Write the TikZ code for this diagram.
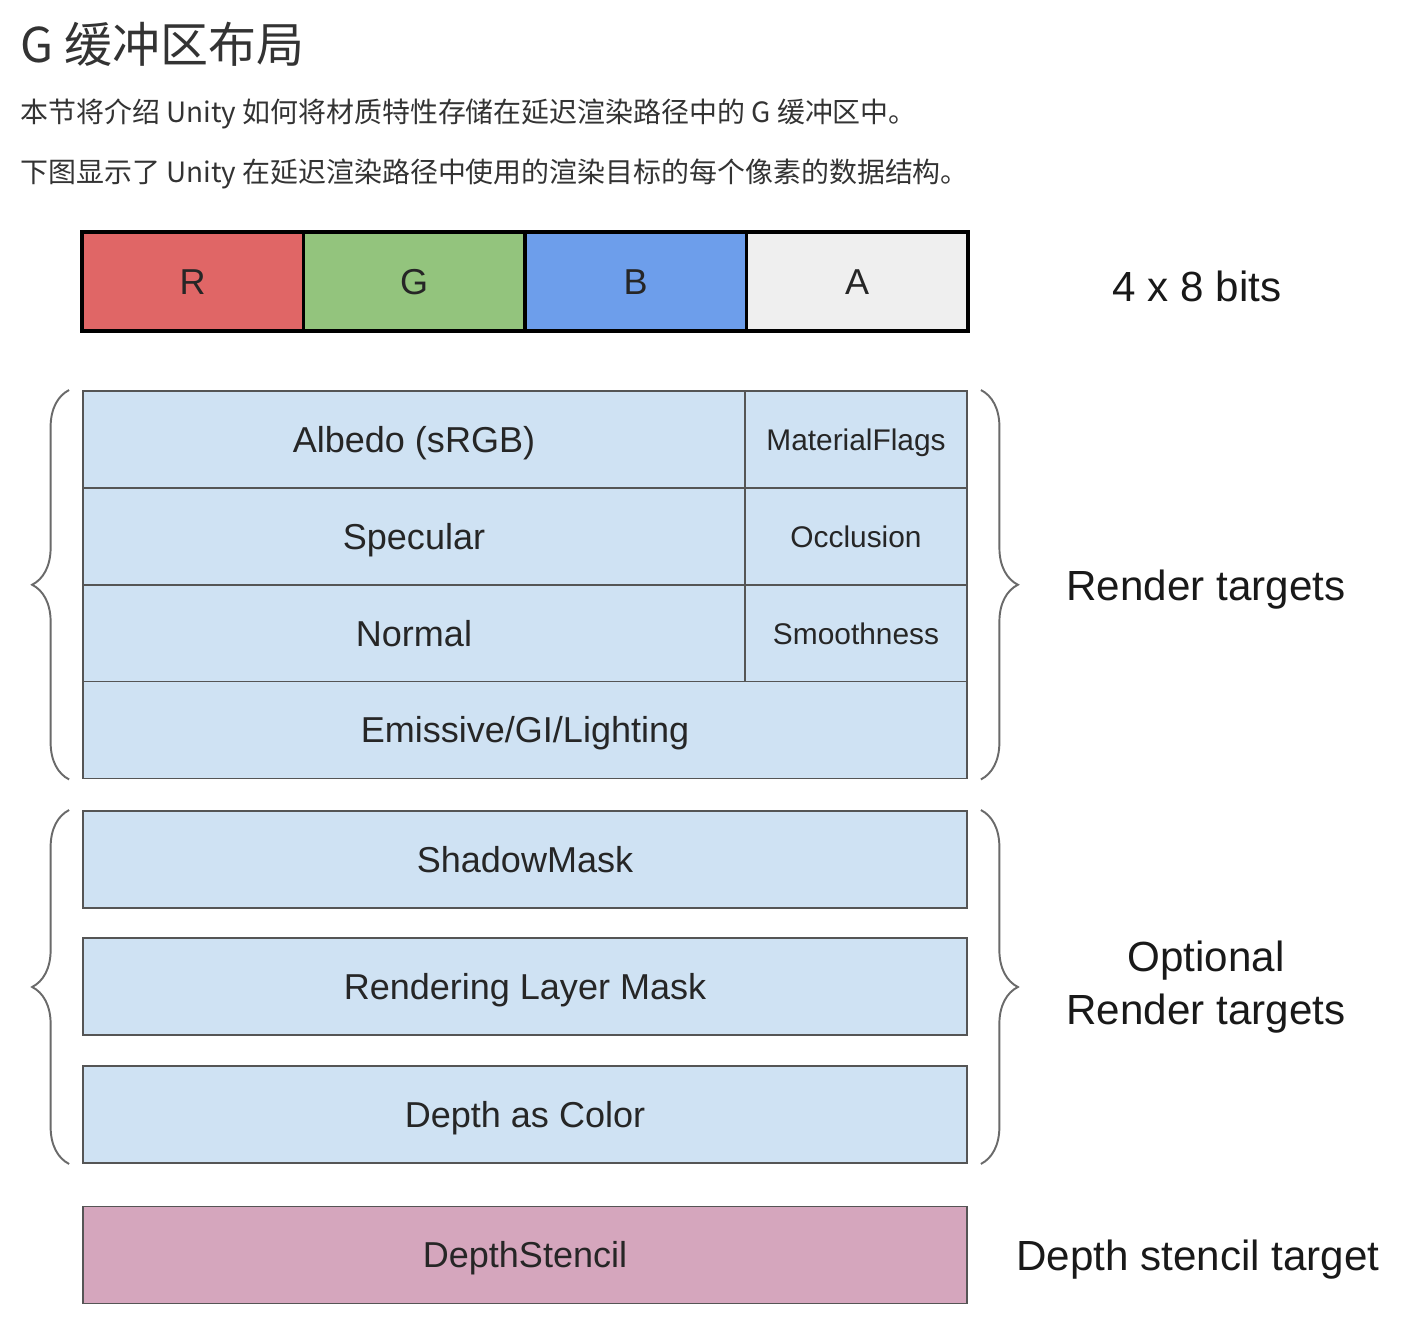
\documentclass[tikz,border=0pt]{standalone}
\usepackage{fontspec}
\usepackage{tikz}
\usetikzlibrary{decorations.pathreplacing}
\setmainfont{Liberation Sans}
\newfontfamily\cjk{Noto Sans CJK SC}
\definecolor{rcl}{HTML}{E06666}
\definecolor{gcl}{HTML}{93C47D}
\definecolor{bcl}{HTML}{6D9EEB}
\definecolor{acl}{HTML}{EFEFEF}
\definecolor{lbc}{HTML}{CFE2F3}
\definecolor{pkc}{HTML}{D5A6BD}
\definecolor{bdc}{HTML}{555555}
\definecolor{brc}{HTML}{6A6A6A}
\tikzset{bit/.style={draw=black,line width=2.2pt,minimum width=4.43cm,minimum height=1.98cm,font=\fontsize{20.5}{24}\selectfont,text=black!85,text height=14.7pt,text depth=0pt},
 rt/.style={draw=bdc,fill=lbc,line width=1.1pt,minimum height=1.94cm,font=\fontsize{20.5}{24}\selectfont,text=black!85,text height=14.7pt,text depth=0pt},
 sm/.style={rt,minimum width=4.44cm,font=\fontsize{17}{20}\selectfont,text height=12.2pt},
 mn/.style={rt,minimum width=13.24cm},fl/.style={rt,minimum width=17.68cm},
 br/.style={draw=brc,line width=1.1pt,decorate,decoration={brace,amplitude=.74cm}},
 lbl/.style={font=\fontsize{24}{30}\selectfont,align=center,text=black!90,text depth=0pt},
 txt/.style={anchor=base west,inner sep=0pt,text=black!80}}
\begin{document}
\begin{tikzpicture}[x=.02cm,y=-.02cm]
\useasboundingbox (0,0) rectangle (1418,1327);
\node[txt,font=\cjk\fontsize{27.3}{30}\selectfont] (ttl) at (20,63) {G 缓冲区布局};
\node[txt,font=\cjk\fontsize{15.9}{20}\selectfont] (p1) at (20,123) {本节将介绍 Unity 如何将材质特性存储在延迟渲染路径中的 G 缓冲区中。};
\node[txt,font=\cjk\fontsize{15.9}{20}\selectfont] (p2) at (20,183) {下图显示了 Unity 在延迟渲染路径中使用的渲染目标的每个像素的数据结构。};
\node[bit,fill=rcl] (r) at (192.75,281.5) {R};\node[bit,fill=gcl] (g) at (414.25,281.5) {G};
\node[bit,fill=bcl] (b) at (635.75,281.5) {B};\node[bit,fill=acl] (a) at (857.25,281.5) {A};
\node[mn] (alb) at (414,439.5) {Albedo (sRGB)};\node[sm] (mf) at (856,439.5) {MaterialFlags};
\node[mn] (spc) at (414,536.5) {Specular};\node[sm] (occ) at (856,536.5) {Occlusion};
\node[mn] (nrm) at (414,633.5) {Normal};\node[sm] (smt) at (856,633.5) {Smoothness};
\node[fl] (emi) at (525,730) {Emissive/GI/Lighting};
\node[fl] (shm) at (525,859.5) {ShadowMask};
\node[fl] (rlm) at (525,986.5) {Rendering Layer Mask};
\node[fl] (dac) at (525,1114.5) {Depth as Color};
\node[fl,fill=pkc] (dst) at (525,1255) {DepthStencil};
\draw[br] ([xshift=-.26cm]emi.south west) -- ([xshift=-.26cm]alb.north west);
\draw[br] ([xshift=.26cm]mf.north east) -- ([xshift=.26cm]emi.south east);
\draw[br] ([xshift=-.26cm]dac.south west) -- ([xshift=-.26cm]shm.north west);
\draw[br] ([xshift=.26cm]shm.north east) -- ([xshift=.26cm]dac.south east);
\node[lbl] (bits) at (1197,286) {4 x 8 bits};
\node[lbl] (rtl) at (1206,585) {Render targets};
\node[lbl] (opt) at (1206,983) {Optional\\Render targets};
\node[lbl] (dsl) at (1198,1255) {Depth stencil target};
\end{tikzpicture}
\end{document}
